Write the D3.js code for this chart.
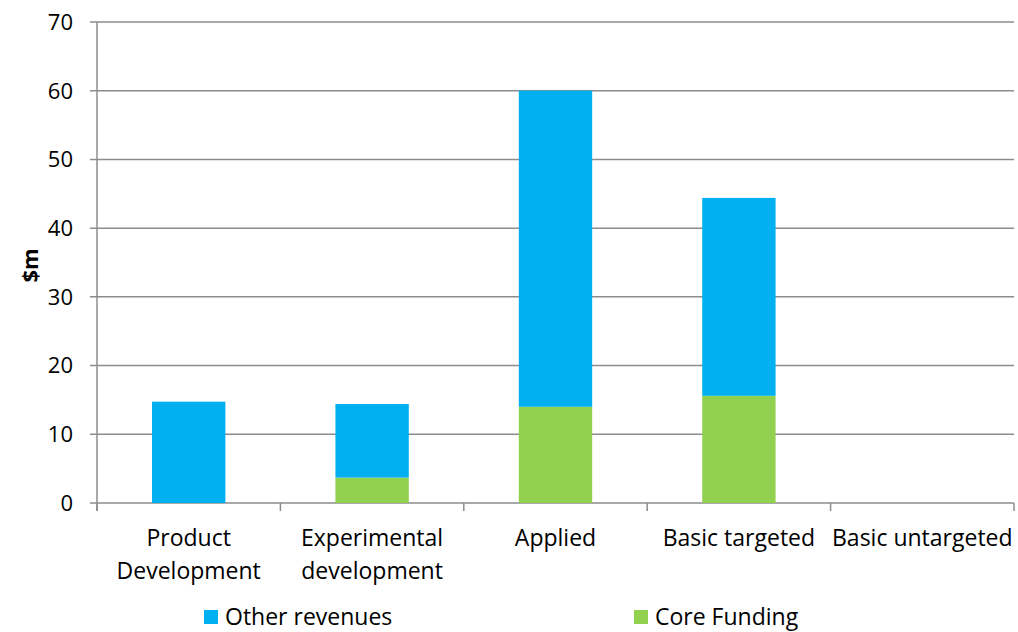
<!DOCTYPE html>
<html>
<head>
<meta charset="utf-8">
<script src="https://cdn.jsdelivr.net/npm/d3@7"></script>
<style>
  body { margin: 0; background: #fff; }
  svg text { font-family: "Open Sans", "Noto Sans", sans-serif; fill: #000; }
</style>
</head>
<body>
<div id="chart"></div>
<script>
const categories = [["Product", "Development"], ["Experimental", "development"], ["Applied"], ["Basic targeted"], ["Basic untargeted"]];
const coreFunding = [0, 3.7, 14.0, 15.6, 0];
const otherRevenues = [14.75, 10.7, 46.0, 28.8, 0];
const yTicks = [0, 10, 20, 30, 40, 50, 60, 70];
const seriesNames = ["Core Funding", "Other revenues"];
const colors = { "Core Funding": "#92D050", "Other revenues": "#00B0F0" };

const width = 1018, height = 632;
const margin = { top: 22, right: 4, bottom: 129, left: 97 };

const svg = d3.select("#chart").append("svg")
    .attr("width", width)
    .attr("height", height);

const x = d3.scaleBand()
    .domain(d3.range(categories.length))
    .range([margin.left, width - margin.right])
    .paddingInner(0)
    .paddingOuter(0);

const y = d3.scaleLinear()
    .domain([0, 70])
    .range([height - margin.bottom, margin.top]);

// gridlines
svg.append("g")
    .selectAll("line")
    .data(yTicks)
    .join("line")
    .attr("x1", margin.left - 7)
    .attr("x2", width - margin.right)
    .attr("y1", d => y(d))
    .attr("y2", d => y(d))
    .attr("stroke", "#8c8c8c")
    .attr("stroke-width", 1.5);

// y tick labels
svg.append("g")
    .selectAll("text")
    .data(yTicks)
    .join("text")
    .attr("x", margin.left - 24)
    .attr("y", d => y(d))
    .attr("dy", "0.36em")
    .attr("text-anchor", "end")
    .style("font-size", "22px")
    .text(d => d);

// stacked bars
const rows = categories.map((c, i) => ({ i, "Core Funding": coreFunding[i], "Other revenues": otherRevenues[i] }));
const stacked = d3.stack().keys(seriesNames)(rows);
const barW = x.bandwidth() * 0.4;

svg.append("g")
    .selectAll("g")
    .data(stacked)
    .join("g")
    .attr("fill", d => colors[d.key])
    .selectAll("rect")
    .data(d => d)
    .join("rect")
    .attr("x", d => x(d.data.i) + (x.bandwidth() - barW) / 2)
    .attr("width", barW)
    .attr("y", d => y(d[1]))
    .attr("height", d => y(d[0]) - y(d[1]));

// y axis line
svg.append("line")
    .attr("x1", margin.left).attr("x2", margin.left)
    .attr("y1", y(70)).attr("y2", y(0) + 8)
    .attr("stroke", "#8c8c8c")
    .attr("stroke-width", 1.5);

// x axis ticks at band boundaries
const bounds = d3.range(categories.length + 1).map(i => i < categories.length ? x(i) : x(i - 1) + x.bandwidth());
svg.append("g")
    .selectAll("line")
    .data(bounds)
    .join("line")
    .attr("x1", d => d).attr("x2", d => d)
    .attr("y1", y(0)).attr("y2", y(0) + 8)
    .attr("stroke", "#8c8c8c")
    .attr("stroke-width", 1.5);

// category labels
const lab = svg.append("g")
    .selectAll("text")
    .data(categories)
    .join("text")
    .attr("x", (d, i) => x(i) + x.bandwidth() / 2)
    .attr("y", y(0) + 43)
    .attr("text-anchor", "middle")
    .style("font-size", "23px");
lab.selectAll("tspan")
    .data(d => d)
    .join("tspan")
    .attr("x", function() { return this.parentNode.getAttribute("x"); })
    .attr("dy", (d, j) => j === 0 ? 0 : 33)
    .text(d => d);

// y axis title
svg.append("text")
    .attr("transform", `translate(38, ${(y(0) + y(70)) / 2 + 3}) rotate(-90)`)
    .attr("text-anchor", "middle")
    .style("font-size", "22px")
    .style("font-weight", "bold")
    .text("$m");

// legend
const legendItems = [
    { key: "Other revenues", x: 204 },
    { key: "Core Funding", x: 634 }
];
const lg = svg.append("g")
    .selectAll("g")
    .data(legendItems)
    .join("g")
    .attr("transform", d => `translate(${d.x}, 610)`);
lg.append("rect")
    .attr("width", 14).attr("height", 14)
    .attr("fill", d => colors[d.key]);
lg.append("text")
    .attr("x", 21)
    .attr("y", 15)
    .style("font-size", "23px")
    .text(d => d.key);
</script>
</body>
</html>
